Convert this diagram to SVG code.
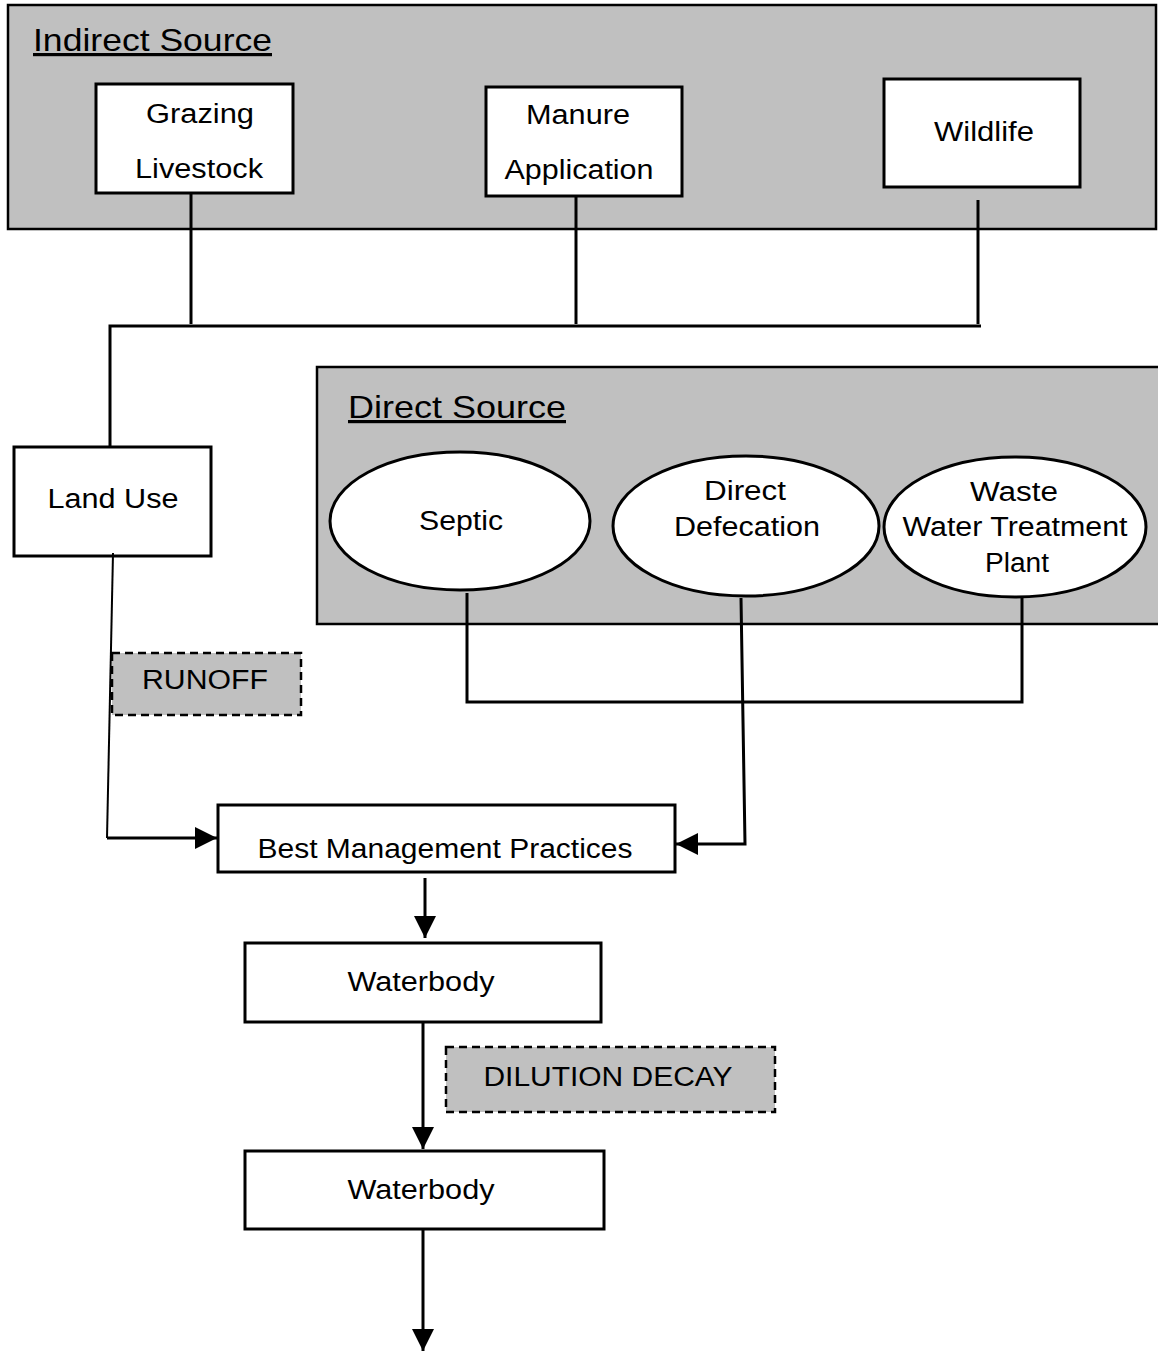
<svg xmlns="http://www.w3.org/2000/svg" width="1158" height="1352" viewBox="0 0 1158 1352">
<defs>
<style>
.grp{fill:#c0c0c0;stroke:#000;stroke-width:2.5}
.box{fill:#fff;stroke:#000;stroke-width:3}
.dash{fill:#c0c0c0;stroke:#000;stroke-width:2.5;stroke-dasharray:8,5}
.t{font-family:"Liberation Sans",Arial,sans-serif;font-size:27px;fill:#000;text-anchor:middle}
.title{font-family:"Liberation Sans",Arial,sans-serif;font-size:32px;fill:#000;text-decoration:underline}
.ln{fill:none;stroke:#000;stroke-width:3}
</style>
<marker id="ah" markerUnits="userSpaceOnUse" markerWidth="24" markerHeight="24" viewBox="0 0 24 24" refX="22" refY="12" orient="auto">
<path d="M0,1 L22,12 L0,23 Z" fill="#000"/>
</marker>
</defs>
<rect width="1158" height="1352" fill="#fff"/>

<g id="indirect-source">
<rect class="grp" x="8" y="5" width="1148" height="224"/>
<text class="title" x="33" y="51" textLength="239" lengthAdjust="spacingAndGlyphs">Indirect Source</text>
</g>
<g id="grazing-livestock">
<rect class="box" x="96" y="84" width="197" height="109"/>
<text class="t" x="200" y="123" textLength="108" lengthAdjust="spacingAndGlyphs">Grazing</text>
<text class="t" x="199" y="178" textLength="128" lengthAdjust="spacingAndGlyphs">Livestock</text>
</g>
<g id="manure-application">
<rect class="box" x="486" y="87" width="196" height="109"/>
<text class="t" x="578" y="124" textLength="104" lengthAdjust="spacingAndGlyphs">Manure</text>
<text class="t" x="579" y="179" textLength="149" lengthAdjust="spacingAndGlyphs">Application</text>
</g>
<g id="wildlife">
<rect class="box" x="884" y="79" width="196" height="108"/>
<text class="t" x="984" y="141" textLength="100" lengthAdjust="spacingAndGlyphs">Wildlife</text>
</g>

<g id="direct-source">
<rect class="grp" x="317" y="367" width="845" height="257"/>
<text class="title" x="348" y="418" textLength="218" lengthAdjust="spacingAndGlyphs">Direct Source</text>
</g>
<g id="septic">
<ellipse class="box" cx="460" cy="521" rx="130" ry="69"/>
<text class="t" x="461" y="530" textLength="84" lengthAdjust="spacingAndGlyphs">Septic</text>
</g>
<g id="direct-defecation">
<ellipse class="box" cx="746" cy="526" rx="133" ry="70"/>
<text class="t" x="745" y="500" textLength="82" lengthAdjust="spacingAndGlyphs">Direct</text>
<text class="t" x="747" y="536" textLength="146" lengthAdjust="spacingAndGlyphs">Defecation</text>
</g>
<g id="wwtp">
<ellipse class="box" cx="1015" cy="527" rx="131" ry="70"/>
<text class="t" x="1014" y="501" textLength="88" lengthAdjust="spacingAndGlyphs">Waste</text>
<text class="t" x="1015" y="536" textLength="225" lengthAdjust="spacingAndGlyphs">Water Treatment</text>
<text class="t" x="1017" y="572" textLength="64" lengthAdjust="spacingAndGlyphs">Plant</text>
</g>

<g id="land-use">
<rect class="box" x="14" y="447" width="197" height="109"/>
<text class="t" x="113" y="508" textLength="131" lengthAdjust="spacingAndGlyphs">Land Use</text>
</g>
<g id="runoff">
<rect class="dash" x="112" y="653" width="189" height="62"/>
<text class="t" x="205" y="689" textLength="126" lengthAdjust="spacingAndGlyphs">RUNOFF</text>
</g>
<g id="bmp">
<rect class="box" x="218" y="805" width="457" height="67"/>
<text class="t" x="445" y="858" textLength="375" lengthAdjust="spacingAndGlyphs">Best Management Practices</text>
</g>
<g id="waterbody-1">
<rect class="box" x="245" y="943" width="356" height="79"/>
<text class="t" x="421" y="991" textLength="147" lengthAdjust="spacingAndGlyphs">Waterbody</text>
</g>
<g id="dilution-decay">
<rect class="dash" x="446" y="1047" width="329" height="65"/>
<text class="t" x="608" y="1086" textLength="249" lengthAdjust="spacingAndGlyphs">DILUTION DECAY</text>
</g>
<g id="waterbody-2">
<rect class="box" x="245" y="1151" width="359" height="78"/>
<text class="t" x="421" y="1199" textLength="147" lengthAdjust="spacingAndGlyphs">Waterbody</text>
</g>

<g id="connectors">
<line class="ln" x1="191" y1="193" x2="191" y2="324"/>
<line class="ln" x1="576" y1="196" x2="576" y2="324"/>
<line class="ln" x1="978" y1="200" x2="978" y2="324"/>
<polyline class="ln" points="110,446 110,326 981,326"/>
<polyline class="ln" points="467,593 467,702 1022,702 1022,597"/>
<polyline class="ln" points="113,553 107,838" style="stroke-width:2"/>
<line class="ln" x1="107" y1="838" x2="217" y2="838" marker-end="url(#ah)"/>
<polyline class="ln" points="741,598 745,844 676,844" marker-end="url(#ah)"/>
<line class="ln" x1="425" y1="878" x2="425" y2="938" marker-end="url(#ah)"/>
<line class="ln" x1="423" y1="1023" x2="423" y2="1149" marker-end="url(#ah)"/>
<line class="ln" x1="423" y1="1229" x2="423" y2="1351" marker-end="url(#ah)"/>
</g>
</svg>
